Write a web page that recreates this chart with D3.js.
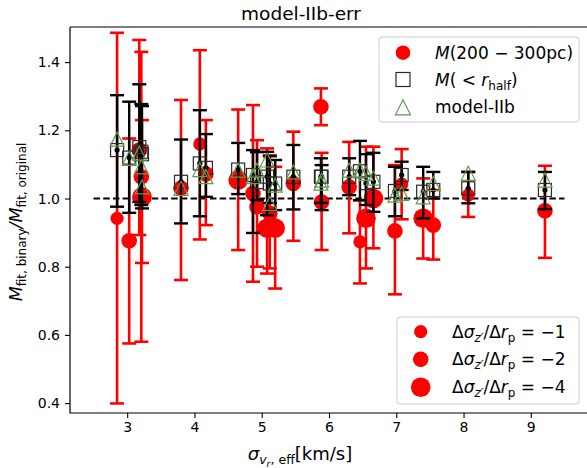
<!DOCTYPE html>
<html>
<head>
<meta charset="utf-8">
<title>model-IIb-err</title>
<script src="https://d3js.org/d3.v7.min.js"></script>
<style>
  body { margin: 0; background: #fff; }
  text { font-family: "DejaVu Sans", sans-serif; fill: #000; }
</style>
</head>
<body>
<script>
// sigma_{v_r,eff} [km/s] for each run
const sigma = [2.85, 3.03, 3.18, 3.21, 3.22, 3.80, 4.08, 4.17, 4.65, 4.87, 4.93, 5.08, 5.12, 5.20,
  5.47, 5.88, 5.89, 6.30, 6.46, 6.55, 6.66, 6.98, 7.08, 7.40, 7.55, 8.07, 9.21];
// M(200-300pc) ratio with its lower / upper error limits
const redVal = [0.942, 0.876, 1.142, 1.064, 1.005, 1.030, 1.160, 1.072, 1.054, 1.015, 0.976, 0.913, 0.957, 0.913,
  1.044, 1.269, 0.990, 1.034, 0.873, 0.942, 1.000, 0.905, 1.042, 0.942, 0.922, 1.010, 0.964];
const redLo = [0.399, 0.575, 0.893, 0.580, 0.811, 0.761, 0.880, 0.922, 0.849, 0.756, 0.800, 0.780, 0.795, 0.736,
  0.876, 1.215, 0.849, 0.898, 0.751, 0.795, 0.854, 0.719, 0.939, 0.824, 0.821, 0.946, 0.826];
const redHi = [1.486, 1.176, 1.465, 1.430, 1.230, 1.289, 1.435, 1.230, 1.261, 1.274, 1.171, 1.147, 1.127, 1.093,
  1.196, 1.323, 1.134, 1.166, 0.995, 1.152, 1.152, 1.098, 1.145, 1.059, 1.025, 1.078, 1.096];
// -dsigma/dr_p of each run (1, 2 or 4)
const slope = [1, 2, 2, 2, 4, 2, 1, 2, 4, 2, 2, 4, 2, 4, 2, 2, 2, 2, 1, 4, 4, 2, 1, 4, 2, 1, 2];
// M(<r_half) ratio with errors
const halfVal = [1.142, 1.120, 1.151, 1.137, 1.130, 1.049, 1.103, 1.090, 1.085, 1.069, 1.048, 1.064, 1.044, 1.044,
  1.064, 1.064, 1.064, 1.064, 1.080, 1.045, 1.049, 1.022, 1.069, 1.020, 1.025, 1.030, 1.025];
const halfLo = [0.976, 0.958, 0.990, 0.981, 0.971, 0.927, 0.948, 1.005, 1.013, 0.899, 0.995, 0.951, 0.987, 0.966,
  0.968, 0.987, 0.966, 1.010, 0.995, 0.981, 0.961, 0.948, 1.025, 0.942, 1.000, 0.986, 0.969];
const halfHi = [1.303, 1.284, 1.335, 1.277, 1.271, 1.173, 1.259, 1.189, 1.163, 1.142, 1.136, 1.137, 1.124, 1.113,
  1.157, 1.118, 1.098, 1.118, 1.169, 1.130, 1.134, 1.093, 1.108, 1.093, 1.078, 1.078, 1.078];
// model-IIb values
const modelVal = [1.174, 1.118, 1.133, 1.093, 1.034, 1.030, 1.085, 1.064, 1.083, 1.064, 1.083, 1.113, 0.986, 1.039,
  1.078, 1.045, 1.054, 1.083, 1.083, 1.074, 1.060, 1.010, 1.015, 1.005, 1.044, 1.074, 1.054];

const xTicks = [3, 4, 5, 6, 7, 8, 9];
const yTicks = [0.4, 0.6, 0.8, 1.0, 1.2, 1.4];
const slopeLegend = [1, 2, 4];

const width = 587, height = 468;
const RED = "#ff0000", GREEN = "#5e9c50";
const radius = { 1: 6.6, 2: 7.8, 4: 9.8 };

const x = d3.scaleLinear().domain([2.15, 9.85]).range([70, 588]);
const y = d3.scaleLinear().domain([0.371, 1.503]).range([413, 27]);

const svg = d3.select("body").append("svg")
  .attr("width", width)
  .attr("height", height);

const pts = sigma.map((s, i) => ({
  s, r: redVal[i], rlo: redLo[i], rhi: redHi[i], k: slope[i],
  h: halfVal[i], hlo: halfLo[i], hhi: halfHi[i], m: modelVal[i]
}));

const plot = svg.append("g");

// reference line at ratio 1
plot.append("line")
  .attr("x1", x(2.5)).attr("x2", x(9.5))
  .attr("y1", y(1)).attr("y2", y(1))
  .attr("stroke", "#000").attr("stroke-width", 2)
  .attr("stroke-dasharray", "6.5,3.2");

function errorbars(g, data, lo, hi, color, lw) {
  const cap = 7;
  const eb = g.append("g").selectAll("g").data(data).enter().append("g")
    .attr("stroke", color).attr("stroke-width", lw);
  eb.append("line")
    .attr("x1", d => x(d.s)).attr("x2", d => x(d.s))
    .attr("y1", d => y(lo(d))).attr("y2", d => y(hi(d)));
  eb.append("line")
    .attr("x1", d => x(d.s) - cap).attr("x2", d => x(d.s) + cap)
    .attr("y1", d => y(lo(d))).attr("y2", d => y(lo(d)));
  eb.append("line")
    .attr("x1", d => x(d.s) - cap).attr("x2", d => x(d.s) + cap)
    .attr("y1", d => y(hi(d))).attr("y2", d => y(hi(d)));
}

// M(200-300pc)
errorbars(plot, pts, d => d.rlo, d => d.rhi, RED, 2.6);
plot.append("g").selectAll("circle").data(pts).enter().append("circle")
  .attr("cx", d => x(d.s)).attr("cy", d => y(d.r))
  .attr("r", d => radius[d.k])
  .attr("fill", RED);

// M(<r_half)
errorbars(plot, pts, d => d.hlo, d => d.hhi, "#000", 2.4);
plot.append("g").selectAll("circle").data(pts).enter().append("circle")
  .attr("cx", d => x(d.s)).attr("cy", d => y(d.h))
  .attr("r", 2.6).attr("fill", "#000");
plot.append("g").selectAll("rect").data(pts).enter().append("rect")
  .attr("x", d => x(d.s) - 6.5).attr("y", d => y(d.h) - 6.5)
  .attr("width", 13).attr("height", 13)
  .attr("fill", "none").attr("stroke", "#2a2a2a").attr("stroke-width", 1.2);

// model-IIb
function triPath(cx, cy, s) {
  return `M${cx},${cy - s / 2}L${cx + s / 2},${cy + s / 2}L${cx - s / 2},${cy + s / 2}Z`;
}
plot.append("g").selectAll("path").data(pts).enter().append("path")
  .attr("d", d => triPath(x(d.s), y(d.m), 14))
  .attr("fill", "none").attr("stroke", GREEN).attr("stroke-width", 1.2);

// axes
const xAxis = svg.append("g").attr("transform", "translate(0,413)")
  .call(d3.axisBottom(x).tickValues(xTicks).tickFormat(d3.format("d")).tickSize(5).tickPadding(4));
const yAxis = svg.append("g").attr("transform", "translate(70,0)")
  .call(d3.axisLeft(y).tickValues(yTicks).tickFormat(d3.format(".1f")).tickSize(5).tickPadding(5));
[xAxis, yAxis].forEach(a => {
  a.select(".domain").remove();
  a.selectAll("line").attr("stroke", "#000").attr("stroke-width", 1.1);
  a.selectAll("text").attr("font-size", 14).attr("fill", "#000")
    .style("font-family", "'DejaVu Sans', sans-serif");
});
// spines
svg.append("path")
  .attr("d", "M70,27H588M70,27V413H588")
  .attr("fill", "none").attr("stroke", "#000").attr("stroke-width", 1.2);

// title
svg.append("text").attr("x", 301).attr("y", 20).attr("text-anchor", "middle")
  .attr("font-size", 18.5).text("model-IIb-err");

// x label
const xl = svg.append("text").attr("x", 300).attr("y", 460).attr("text-anchor", "middle").attr("font-size", 18);
xl.append("tspan").attr("font-style", "italic").text("σ");
xl.append("tspan").attr("font-size", 12.5).attr("font-style", "italic").attr("dy", 4).text("v");
xl.append("tspan").attr("font-size", 9.5).attr("font-style", "italic").attr("dy", 2.5).text("r");
xl.append("tspan").attr("font-size", 12.5).attr("dy", -2.5).text(", eff");
xl.append("tspan").attr("dy", -4).text("[km/s]");

// y label
const yl = svg.append("text").attr("transform", "translate(22,222) rotate(-90)")
  .attr("text-anchor", "middle").attr("font-size", 17.5);
yl.append("tspan").attr("font-style", "italic").text("M");
yl.append("tspan").attr("font-size", 12).attr("dy", 4).text("fit, binary");
yl.append("tspan").attr("dy", -4).attr("font-style", "italic").text("/M");
yl.append("tspan").attr("font-size", 12).attr("dy", 4).text("fit, original");

// legend 1
const lg1 = svg.append("g");
lg1.append("rect").attr("x", 379).attr("y", 37).attr("width", 200).attr("height", 85).attr("rx", 3)
  .attr("fill", "#fff").attr("fill-opacity", 0.8).attr("stroke", "#ccc");
const rows1 = [52.7, 79.5, 107.3];
lg1.append("circle").attr("cx", 403).attr("cy", rows1[0]).attr("r", 7.3).attr("fill", RED);
lg1.append("rect").attr("x", 396).attr("y", rows1[1] - 7).attr("width", 14).attr("height", 14)
  .attr("fill", "none").attr("stroke", "#2a2a2a").attr("stroke-width", 1.2);
lg1.append("path").attr("d", triPath(403, rows1[2], 15))
  .attr("fill", "none").attr("stroke", GREEN).attr("stroke-width", 1.2);
const t1 = lg1.append("text").attr("x", 435).attr("y", rows1[0] + 6).attr("font-size", 17);
t1.append("tspan").attr("font-style", "italic").text("M");
t1.append("tspan").text("(200 − 300pc)");
const t2 = lg1.append("text").attr("x", 435).attr("y", rows1[1] + 6).attr("font-size", 17);
t2.append("tspan").attr("font-style", "italic").text("M");
t2.append("tspan").text("( < ");
t2.append("tspan").attr("font-style", "italic").text("r");
t2.append("tspan").attr("font-size", 12).attr("dy", 4).text("half");
t2.append("tspan").attr("dy", -4).text(")");
lg1.append("text").attr("x", 435).attr("y", rows1[2] + 6).attr("font-size", 17).text("model-IIb");

// legend 2 (circle size)
const lg2 = svg.append("g");
lg2.append("rect").attr("x", 397).attr("y", 317).attr("width", 182).attr("height", 87).attr("rx", 3)
  .attr("fill", "#fff").attr("fill-opacity", 0.8).attr("stroke", "#ccc");
const rows2 = [331.7, 359.3, 387.3];
slopeLegend.forEach((k, i) => {
  lg2.append("circle").attr("cx", 420.7).attr("cy", rows2[i]).attr("r", radius[k]).attr("fill", RED);
  const t = lg2.append("text").attr("x", 452).attr("y", rows2[i] + 6).attr("font-size", 17);
  t.append("tspan").text("Δ");
  t.append("tspan").attr("font-style", "italic").text("σ");
  t.append("tspan").attr("font-size", 12).attr("font-style", "italic").attr("dy", 4).text("z′");
  t.append("tspan").attr("dy", -4).text("/Δ");
  t.append("tspan").attr("font-style", "italic").text("r");
  t.append("tspan").attr("font-size", 12).attr("dy", 4).text("p");
  t.append("tspan").attr("dy", -4).text(" = −" + k);
});
</script>
</body>
</html>
